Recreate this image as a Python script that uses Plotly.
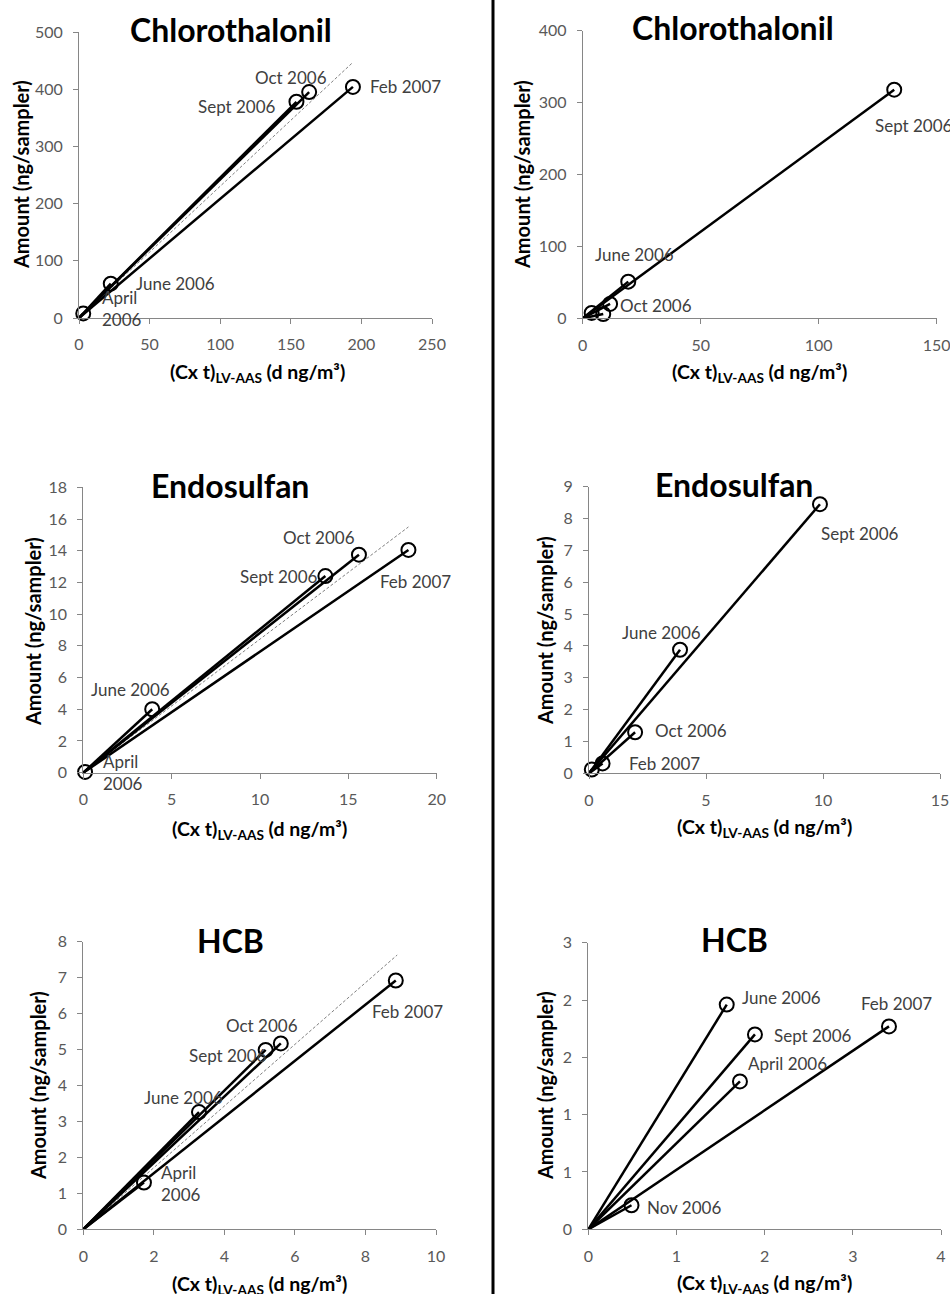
import plotly.graph_objects as go

W, H = 950, 1294

# ---------------- data ----------------
# Chlorothalonil (left)
chl_l_labels = ["April<br>2006", "June 2006", "Sept 2006", "Oct 2006", "Feb 2007"]
chl_l_x = [3.0, 22.5, 154, 163, 194]
chl_l_y = [8, 60, 378, 395, 404]
chl_l_ref_x = [0, 194]
chl_l_ref_y = [0, 447]

# Chlorothalonil (right)
chl_r_labels = ["", "June 2006", "Sept 2006", "Oct 2006", ""]
chl_r_x = [3.8, 19.3, 132, 11.6, 8.7]
chl_r_y = [7.5, 51, 318, 20, 6]

# Endosulfan (left)
endo_l_labels = ["April<br>2006", "June 2006", "Sept 2006", "Oct 2006", "Feb 2007"]
endo_l_x = [0.1, 3.9, 13.7, 15.6, 18.4]
endo_l_y = [0.05, 4.0, 12.4, 13.75, 14.05]
endo_l_ref_x = [0, 18.4]
endo_l_ref_y = [0, 15.5]

# Endosulfan (right)
endo_r_labels = ["", "June 2006", "Sept 2006", "Oct 2006", "Feb 2007"]
endo_r_x = [0.12, 3.89, 9.87, 1.97, 0.58]
endo_r_y = [0.12, 3.88, 8.45, 1.29, 0.31]

# HCB (left)
hcb_l_labels = ["April<br>2006", "June 2006", "Sept 2006", "Oct 2006", "Feb 2007"]
hcb_l_x = [1.72, 3.28, 5.17, 5.6, 8.86]
hcb_l_y = [1.3, 3.26, 4.99, 5.17, 6.92]
hcb_l_ref_x = [0, 8.9]
hcb_l_ref_y = [0, 7.63]

# HCB (right)
hcb_r_labels = ["April 2006", "June 2006", "Sept 2006", "Nov 2006", "Feb 2007"]
hcb_r_x = [1.72, 1.57, 1.89, 0.49, 3.41]
hcb_r_y = [1.29, 1.96, 1.70, 0.21, 1.77]
hcb_r_ytickvals = [0, 0.5, 1, 1.5, 2, 2.5]
hcb_r_yticktext = ["0", "1", "1", "2", "2", "3"]

titles = ["Chlorothalonil", "Chlorothalonil", "Endosulfan", "Endosulfan", "HCB", "HCB"]
y_title = "Amount (ng/sampler)"
x_title = "(Cx t)<sub>LV-AAS</sub> (d ng/m³)"

# ---------------- layout specs (pixels) ----------------
FONT = "Lato"
panels = [
    dict(x=chl_l_x, y=chl_l_y, lab=chl_l_labels, ref=(chl_l_ref_x, chl_l_ref_y),
         dom_x=(79, 432), dom_y=(32, 318), xr=[0, 250], yr=[0, 500], dx=50, dy=100,
         shifts=[(39, 5), (65, 0), (-59, -5), (-18, 15), (53, 0)],
         title_pos=(231, 30), ytitle_pos=(21, 175), xtitle_pos=(257, 373)),
    dict(x=chl_r_x, y=chl_r_y, lab=chl_r_labels, ref=None,
         dom_x=(582.7, 936.7), dom_y=(30.7, 318.3), xr=[0, 150], yr=[0, 400], dx=50, dy=100,
         shifts=[(0, 0), (6, 27), (20, -36), (46, -2), (0, 0)],
         title_pos=(733, 28), ytitle_pos=(522, 175), xtitle_pos=(759, 373)),
    dict(x=endo_l_x, y=endo_l_y, lab=endo_l_labels, ref=(endo_l_ref_x, endo_l_ref_y),
         dom_x=(83.3, 436.7), dom_y=(487.3, 772.7), xr=[0, 20], yr=[0, 18], dx=5, dy=2,
         shifts=[(38, -1), (-22, 20), (-46, 0), (-40, 17), (7, -32)],
         title_pos=(230, 485), ytitle_pos=(33, 632), xtitle_pos=(259, 830)),
    dict(x=endo_r_x, y=endo_r_y, lab=endo_r_labels, ref=None,
         dom_x=(589, 940), dom_y=(486.7, 773.3), xr=[0, 15], yr=[0, 9], dx=5, dy=1,
         shifts=[(0, 0), (-19, 17), (40, -29), (56, 2), (62, 0)],
         title_pos=(734, 484), ytitle_pos=(545, 631), xtitle_pos=(764, 828)),
    dict(x=hcb_l_x, y=hcb_l_y, lab=hcb_l_labels, ref=(hcb_l_ref_x, hcb_l_ref_y),
         dom_x=(83.3, 436), dom_y=(941.7, 1229.3), xr=[0, 10], yr=[0, 8], dx=2, dy=1,
         shifts=[(37, -1), (-15, 15), (-38, -6), (-19, 18), (12, -31)],
         title_pos=(230, 940), ytitle_pos=(38, 1086), xtitle_pos=(259, 1285)),
    dict(x=hcb_r_x, y=hcb_r_y, lab=hcb_r_labels, ref=None,
         dom_x=(588.3, 941), dom_y=(942.7, 1229.3), xr=[0, 4], yr=[0, 2.5], dx=1, dy=None,
         shifts=[(48, 18), (55, 7), (58, -1), (52, -2), (8, 23)],
         title_pos=(734, 939), ytitle_pos=(545, 1086), xtitle_pos=(764, 1284)),
]


def pxx(v):
    return v / W


def pxy(v):
    return 1 - v / H


fig = go.Figure()
annotations = []
axis_common = dict(
    showline=True, linecolor="#868686", linewidth=1, mirror=False,
    ticks="outside", ticklen=5, tickcolor="#868686", tickwidth=1,
    showgrid=False, zeroline=False, fixedrange=True, automargin=False,
    tickfont=dict(family=FONT, size=16, color="#595959"),
    ticklabelstandoff=7, ticklabeloverflow="allow",
)

for i, p in enumerate(panels):
    n = i + 1
    xa = "x" if n == 1 else f"x{n}"
    ya = "y" if n == 1 else f"y{n}"
    xkey = "xaxis" if n == 1 else f"xaxis{n}"
    ykey = "yaxis" if n == 1 else f"yaxis{n}"

    xaxis = dict(axis_common, domain=[pxx(p["dom_x"][0]), pxx(p["dom_x"][1])],
                 range=p["xr"], dtick=p["dx"], tick0=0, anchor=ya)
    yaxis = dict(axis_common, domain=[pxy(p["dom_y"][1]), pxy(p["dom_y"][0])],
                 range=p["yr"], anchor=xa)
    if p["dy"] is not None:
        yaxis.update(dtick=p["dy"], tick0=0)
    else:
        yaxis.update(tickmode="array", tickvals=hcb_r_ytickvals, ticktext=hcb_r_yticktext)
    fig.update_layout({xkey: xaxis, ykey: yaxis})

    # dashed reference line
    if p["ref"] is not None:
        fig.add_trace(go.Scatter(x=p["ref"][0], y=p["ref"][1], mode="lines",
                                 line=dict(color="#7f7f7f", width=1, dash="3px,2px"),
                                 xaxis=xa, yaxis=ya, showlegend=False, hoverinfo="skip"))
    # lines from origin to each point
    for xv, yv in zip(p["x"], p["y"]):
        fig.add_trace(go.Scatter(x=[0, xv], y=[0, yv], mode="lines",
                                 line=dict(color="black", width=2.5),
                                 xaxis=xa, yaxis=ya, showlegend=False, cliponaxis=False,
                                 hoverinfo="skip"))
    # markers
    fig.add_trace(go.Scatter(x=p["x"], y=p["y"], mode="markers",
                             marker=dict(symbol="circle-open", size=14, color="black",
                                         line=dict(width=2, color="black")),
                             xaxis=xa, yaxis=ya, showlegend=False, cliponaxis=False))
    # point labels
    for xv, yv, t, (sx, sy) in zip(p["x"], p["y"], p["lab"], p["shifts"]):
        if not t:
            continue
        annotations.append(dict(x=xv, y=yv, xref=xa, yref=ya, text=t, showarrow=False,
                                xshift=sx, yshift=sy, align="left",
                                font=dict(family=FONT, size=17, color="#404040")))
    # panel title
    annotations.append(dict(x=pxx(p["title_pos"][0]), y=pxy(p["title_pos"][1]),
                            xref="paper", yref="paper", text=f"<b>{titles[i]}</b>",
                            showarrow=False, xanchor="center", yanchor="middle",
                            font=dict(family=FONT, size=32, color="black")))
    # y-axis title
    annotations.append(dict(x=pxx(p["ytitle_pos"][0]), y=pxy(p["ytitle_pos"][1]),
                            xref="paper", yref="paper", text=f"<b>{y_title}</b>",
                            textangle=-90, showarrow=False, xanchor="center", yanchor="middle",
                            font=dict(family=FONT, size=20, color="black")))
    # x-axis title
    annotations.append(dict(x=pxx(p["xtitle_pos"][0]), y=pxy(p["xtitle_pos"][1]),
                            xref="paper", yref="paper", text=f"<b>{x_title}</b>",
                            showarrow=False, xanchor="center", yanchor="middle",
                            font=dict(family=FONT, size=19.5, color="black")))

fig.update_layout(
    width=W, height=H,
    margin=dict(l=0, r=0, t=0, b=0, autoexpand=False),
    paper_bgcolor="white", plot_bgcolor="white",
    showlegend=False,
    annotations=annotations,
    shapes=[dict(type="line", xref="paper", yref="paper", x0=493 / W, x1=493 / W,
                 y0=0, y1=1, line=dict(color="black", width=3))],
)

fig.write_html("out.html", config={"displayModeBar": False, "staticPlot": True},
               post_script="document.body.style.margin='0';document.body.style.overflow='hidden';")
